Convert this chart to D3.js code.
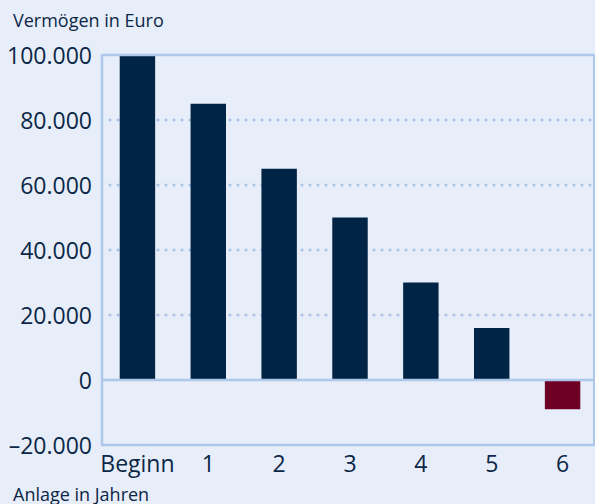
<!DOCTYPE html>
<html>
<head>
  <meta charset="utf-8">
  <title>Vermoegen</title>
  <style type="text/css">
    body{ margin:0; background:#e8eef9; }
    svg{ display:block; }
    text{ font-family:"Open Sans", "Noto Sans", sans-serif; fill:#0b2747; }
  </style>
</head>
<body>
<div id="chart"></div>
<script src="https://cdnjs.cloudflare.com/ajax/libs/d3/7.8.5/d3.min.js"></script>
<script type="text/javascript">
var years  = ["Beginn", "1", "2", "3", "4", "5", "6"];
var wealth = [100000, 85000, 65000, 50000, 30000, 16000, -9000];
var yTicks = [-20000, 0, 20000, 40000, 60000, 80000, 100000];
var gridTicks = [20000, 40000, 60000, 80000];

var W = 595, H = 504;
var pLeft = 102, pRight = 594, pTop = 55, pBottom = 445;

var svg = d3.select("#chart").append("svg")
    .attr("width", W).attr("height", H);

svg.append("rect").attr("width", W).attr("height", H).attr("fill", "#e8eef9");

var x = d3.scaleBand().domain(years).range([pLeft, 598])
    .paddingInner(0.5).paddingOuter(0.25);
var y = d3.scaleLinear().domain([-20000, 100000]).range([pBottom, pTop]);

var fmt = function(d){
  var s = d3.format(",")(Math.abs(d)).replace(/,/g, ".");
  return (d < 0 ? "\u2013" : "") + s;
};

// dotted grid lines
svg.selectAll(".grid").data(gridTicks).enter().append("line")
  .attr("x1", pLeft + 8).attr("x2", pRight)
  .attr("y1", function(d){ return y(d); })
  .attr("y2", function(d){ return y(d); })
  .attr("stroke", "#a9c4e8").attr("stroke-width", 3.2)
  .attr("stroke-linecap", "round")
  .attr("stroke-dasharray", "0 8");

// bars
svg.selectAll(".bar").data(wealth).enter().append("rect")
  .attr("x", function(d, i){ return x(years[i]); })
  .attr("width", x.bandwidth())
  .attr("y", function(d){ return d >= 0 ? y(d) : y(0) + 1; })
  .attr("height", function(d){ return d >= 0 ? y(0) - y(d) : y(d) - y(0) - 1; })
  .attr("fill", function(d){ return d >= 0 ? "#002445" : "#6e0026"; });

// frame
var frame = "#adc8ea";
svg.append("line").attr("x1", pLeft).attr("x2", pRight).attr("y1", pTop).attr("y2", pTop)
  .attr("stroke", frame).attr("stroke-width", 2.5);
svg.append("line").attr("x1", pLeft).attr("x2", pRight).attr("y1", pBottom).attr("y2", pBottom)
  .attr("stroke", frame).attr("stroke-width", 2.5);
svg.append("line").attr("x1", pLeft).attr("x2", pLeft).attr("y1", pTop - 1).attr("y2", pBottom + 1)
  .attr("stroke", frame).attr("stroke-width", 2.5);
svg.append("line").attr("x1", pRight).attr("x2", pRight).attr("y1", pTop - 1).attr("y2", pBottom + 1)
  .attr("stroke", frame).attr("stroke-width", 2);
svg.append("line").attr("x1", pLeft).attr("x2", pRight).attr("y1", y(0)).attr("y2", y(0))
  .attr("stroke", frame).attr("stroke-width", 2.5);

// y tick labels
svg.selectAll(".ylab").data(yTicks).enter().append("text")
  .attr("x", 92)
  .attr("y", function(d){ return y(d) + 8.5; })
  .attr("text-anchor", "end")
  .style("font-size", "23px")
  .text(fmt);

// x labels
svg.selectAll(".xlab").data(years).enter().append("text")
  .attr("x", function(d){ return x(d) + x.bandwidth() / 2; })
  .attr("y", 472)
  .attr("text-anchor", "middle")
  .style("font-size", "23px")
  .text(function(d){ return d; });

svg.append("text").attr("x", 13).attr("y", 27)
  .style("font-size", "18px").text("Vermögen in Euro");
svg.append("text").attr("x", 13).attr("y", 501)
  .style("font-size", "18px").text("Anlage in Jahren");
</script>
</body>
</html>
